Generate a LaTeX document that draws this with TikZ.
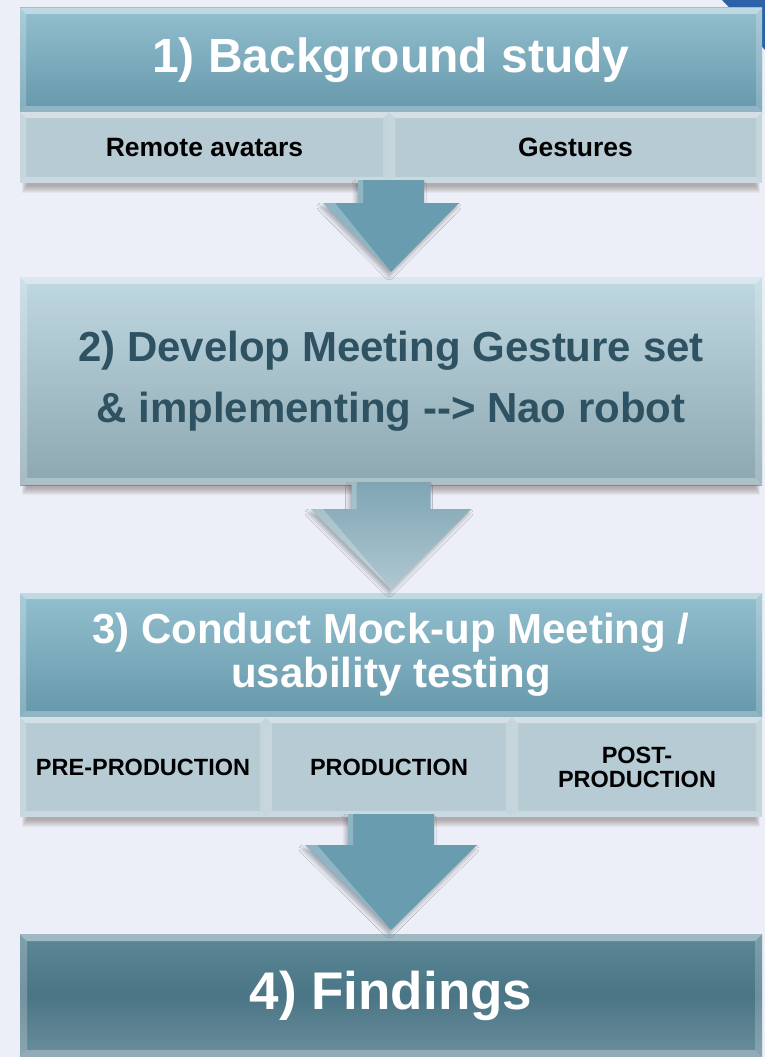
\documentclass[tikz,border=0pt]{standalone}
\usepackage{fontspec}
\setmainfont{Liberation Sans}
\usetikzlibrary{calc,shadows.blur}

\definecolor{pagebg}{HTML}{ECEFF8}
\definecolor{cornerblue}{HTML}{2E62A8}
\definecolor{hdrTop}{HTML}{93BFCE}
\definecolor{hdrBot}{HTML}{6598AB}
\definecolor{cellc}{HTML}{B6CBD3}
\definecolor{midTop}{HTML}{BFD8E1}
\definecolor{midBot}{HTML}{8DA7B1}
\definecolor{midText}{HTML}{2E5262}
\definecolor{endTop}{HTML}{5B8796}
\definecolor{endMid}{HTML}{4A7585}
\definecolor{endBot}{HTML}{6B8E9D}
\definecolor{arrA}{HTML}{6A9CAF}
\definecolor{arrBtop}{HTML}{7FA5B4}
\definecolor{arrBbot}{HTML}{AFC8D1}
\definecolor{shadowc}{HTML}{6E5C5C}

% bevelled edges of a rectangular node: #1 node name, #2 bevel depth
\newcommand\bevel[2]{%
  \fill[white,opacity=.42] (#1.north west) -- (#1.north east) -- ([shift={(-#2,#2)}]#1.north east) -- ([shift={(#2,#2)}]#1.north west) -- cycle;
  \fill[white,opacity=.22] (#1.north west) -- ([shift={(#2,#2)}]#1.north west) -- ([shift={(#2,-#2)}]#1.south west) -- (#1.south west) -- cycle;
  \fill[white,opacity=.20] (#1.north east) -- ([shift={(-#2,#2)}]#1.north east) -- ([shift={(-#2,-#2)}]#1.south east) -- (#1.south east) -- cycle;
  \fill[white,opacity=.28] (#1.south west) -- ([shift={(#2,-#2)}]#1.south west) -- ([shift={(-#2,-#2)}]#1.south east) -- (#1.south east) -- cycle;
}

% soft shadow under a block: #1 lower-left node, #2 lower-right node
\newcommand\dropshade[2]{%
  \foreach \k in {0,...,7}{
    \fill[shadowc,opacity=.07] ([xshift=\k*0.7pt+2pt]#1.south west) rectangle ([xshift=-\k*0.7pt-2pt,yshift=-10pt+\k*1pt]#2.south east);
  }
}

% block arrow from the bottom of node #1 to the top of node #2
% #3 stem half width, #4 head half width, #5 head length, #6 tip overlap, #7 fill style
\newcommand\blockarrow[7]{%
  \path[#7] let \p1=(#1), \p2=(#2) in
    (\x2-#3pt,\y1+3pt) -- (\x2+#3pt,\y1+3pt) -- (\x2+#3pt,\y2-#6pt+#5pt)
    -- (\x2+#4pt,\y2-#6pt+#5pt) -- (\x2,\y2-#6pt) -- (\x2-#4pt,\y2-#6pt+#5pt)
    -- (\x2-#3pt,\y2-#6pt+#5pt) -- cycle;
  \path[fill=white,opacity=.25] let \p1=(#1), \p2=(#2) in
    (\x2-#3pt,\y1+3pt) -- (\x2-#3pt+5pt,\y1+3pt) -- (\x2-#3pt+5pt,\y2-#6pt+#5pt) -- (\x2-#3pt,\y2-#6pt+#5pt) -- cycle
    (\x2,\y2-#6pt) -- (\x2-#4pt,\y2-#6pt+#5pt) -- (\x2-#4pt+12pt,\y2-#6pt+#5pt) -- cycle;
}

\begin{document}
\begin{tikzpicture}[x=1pt,y=-1pt,
  every node/.style={inner sep=0pt,outer sep=0pt,anchor=north west,align=center},
  arrowshadow/.style={blur shadow={shadow xshift=-2pt,shadow yshift=-4pt,shadow opacity=30,shadow blur steps=6,shadow blur radius=4pt}},
  hdr/.style={top color=hdrTop,bottom color=hdrBot,text=white},
  cell/.style={fill=cellc,text=black},
  midbox/.style={top color=midTop,bottom color=midBot,text=midText},
  endbox/.style={top color=endTop,bottom color=endBot,middle color=endMid,text=white},
  bigfont/.style={font=\bfseries\fontsize{48}{58}\selectfont},
  stepfont/.style={font=\bfseries\fontsize{42}{62}\selectfont},
  hdrfont/.style={font=\bfseries\fontsize{42}{44}\selectfont},
  cellfont/.style={font=\bfseries\fontsize{26.5}{30}\selectfont},
  smallfont/.style={font=\bfseries\fontsize{23.5}{24}\selectfont},
  arrowA/.style={fill=arrA,arrowshadow},
  arrowB/.style={top color=arrBtop,bottom color=arrBbot,arrowshadow}]

\useasboundingbox (0,0) rectangle (765,1057);
\fill[pagebg] (0,0) rectangle (765,1057);
\fill[cornerblue] (722,0) .. controls (740,18) and (752,36) .. (765,50) -- (765,0) -- cycle;

% step 1
\node[hdr,bigfont,minimum width=742pt,minimum height=104pt] (h1) at (20,8) {1) Background study};
\bevel{h1}{6}
\node[cell,cellfont,minimum width=369pt,minimum height=71pt] (r1a) at (20,112) {Remote avatars};
\node[cell,cellfont,minimum width=373pt,minimum height=71pt] (r1b) at (389,112) {Gestures};
\bevel{r1a}{6}
\bevel{r1b}{6}
\dropshade{r1a}{r1b}

% step 2
\node[midbox,stepfont,minimum width=742pt,minimum height=208pt] (b2) at (20,277) {2) Develop Meeting Gesture set\\[-1pt]\& implementing {-}{-}> Nao robot};
\bevel{b2}{7}
\dropshade{b2}{b2}

% step 3
\node[hdr,hdrfont,minimum width=742pt,minimum height=124pt] (h3) at (20,593) {3) Conduct Mock-up Meeting /\\usability testing};
\bevel{h3}{6}
\node[cell,smallfont,minimum width=246pt,minimum height=100pt] (r3a) at (20,717) {PRE-PRODUCTION};
\node[cell,smallfont,minimum width=246pt,minimum height=100pt] (r3b) at (266,717) {PRODUCTION};
\node[cell,smallfont,minimum width=250pt,minimum height=100pt] (r3c) at (512,717) {POST-\\PRODUCTION};
\bevel{r3a}{6}
\bevel{r3b}{6}
\bevel{r3c}{6}
\dropshade{r3a}{r3c}

% step 4
\node[endbox,font=\bfseries\fontsize{53}{60}\selectfont,minimum width=742pt,minimum height=123pt] (b4) at (20,934) {4) Findings};
\bevel{b4}{7}

% connectors
\blockarrow{r1a.south east}{b2.north}{33}{68}{69}{-5}{arrowA}
\blockarrow{b2.south}{h3.north}{39.5}{80}{80}{-4}{arrowB}
\blockarrow{r3b.south}{b4.north}{43}{86}{85}{-4}{arrowA}
\end{tikzpicture}
\end{document}
